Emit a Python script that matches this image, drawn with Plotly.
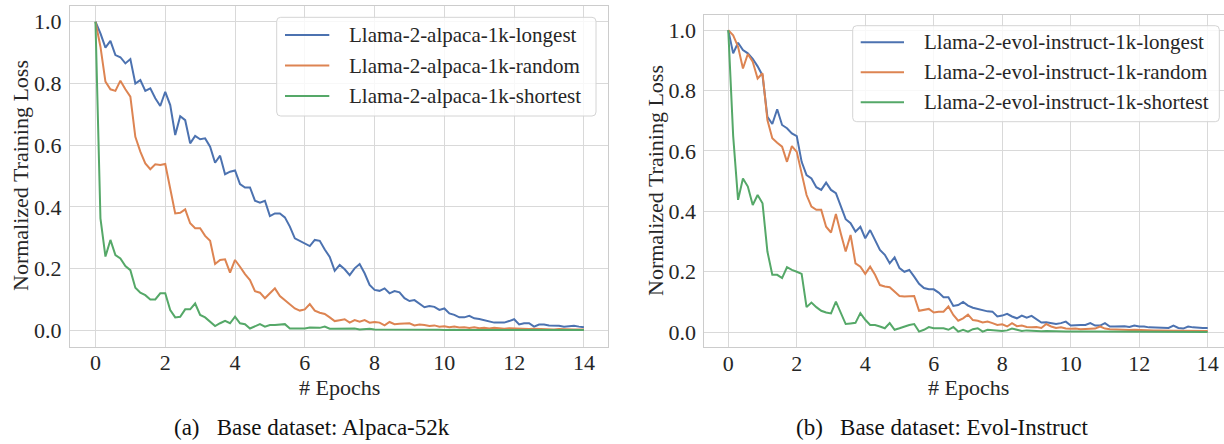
import plotly.graph_objects as go

STEPS_PER_EPOCH = 7
epochs = [k / STEPS_PER_EPOCH for k in range(99)]

alp_longest = [1.000, .962, .916, .938, .892, .885, .865, .879, .800, .811, .776, .784, .752, .727, .773, .730,
               .633, .694, .681, .606, .630, .619, .622, .595, .543, .566, .506, .514, .518, .474, .463, .463,
               .420, .414, .420, .370, .379, .379, .366, .336, .298, .290, .282, .273, .293, .290, .262, .238,
               .193, .212, .198, .179, .201, .215, .185, .147, .131, .128, .136, .120, .127, .123, .104, .095,
               .098, .087, .075, .079, .076, .066, .071, .055, .050, .042, .042, .047, .039, .037, .033, .028,
               .025, .025, .025, .030, .036, .019, .023, .023, .012, .019, .019, .016, .016, .015, .012, .014,
               .015, .012, .010]
alp_random = [1.000, .919, .806, .781, .776, .809, .781, .757, .627, .579, .541, .522, .538, .536, .539, .455,
              .379, .381, .392, .347, .331, .331, .306, .290, .215, .228, .230, .187, .228, .206, .182, .163,
              .127, .122, .104, .120, .136, .111, .098, .082, .071, .064, .068, .085, .064, .057, .053, .042,
              .030, .033, .036, .025, .033, .028, .033, .025, .027, .025, .016, .027, .020, .021, .022, .023,
              .016, .019, .017, .014, .016, .012, .013, .010, .012, .009, .010, .008, .010, .007, .008, .006,
              .008, .006, .005, .007, .006, .005, .005, .004, .005, .004, .004, .004, .003, .004, .003, .003,
              .003, .003, .003]
alp_shortest = [1.000, .363, .239, .293, .244, .233, .208, .195, .138, .122, .114, .100, .100, .120, .120, .066,
                .042, .044, .068, .068, .087, .050, .042, .028, .014, .023, .031, .023, .044, .023, .020, .006,
                .014, .020, .012, .017, .017, .019, .020, .006, .006, .006, .006, .009, .009, .008, .012, .005,
                .005, .005, .006, .004, .006, .003, .004, .005, .003, .003, .004, .003, .002, .003, .002, .003,
                .002, .002, .003, .002, .002, .002, .001, .002, .002, .001, .002, .001, .001, .002, .001, .001,
                .001, .001, .002, .001, .001, .001, .001, .001, .001, .001, .001, .001, .001, .001, .001, .001,
                .001, .001, .001]

evo_longest = [1.000, .923, .958, .934, .923, .905, .880, .850, .713, .689, .738, .686, .675, .658, .649, .564,
               .520, .509, .480, .471, .495, .471, .460, .416, .374, .361, .333, .349, .311, .338, .305, .272,
               .256, .228, .248, .212, .200, .206, .184, .160, .146, .142, .142, .131, .116, .116, .087, .090,
               .100, .088, .081, .077, .072, .069, .068, .052, .055, .061, .052, .046, .055, .048, .054, .043,
               .032, .033, .030, .027, .030, .035, .022, .024, .024, .024, .030, .022, .022, .030, .019, .019,
               .019, .020, .017, .022, .019, .019, .016, .016, .016, .016, .014, .022, .014, .012, .019, .016,
               .014, .014, .014]
evo_random = [1.000, .983, .945, .873, .921, .895, .840, .857, .702, .642, .627, .614, .564, .616, .597, .526,
              .454, .416, .405, .405, .349, .330, .391, .327, .267, .322, .228, .217, .193, .217, .190, .156,
              .151, .149, .134, .120, .118, .118, .120, .071, .073, .077, .065, .068, .068, .085, .057, .038,
              .046, .058, .040, .038, .032, .035, .030, .024, .026, .019, .030, .020, .022, .017, .016, .017,
              .014, .027, .019, .014, .016, .012, .011, .012, .010, .010, .011, .012, .019, .012, .010, .009,
              .008, .008, .007, .008, .007, .006, .006, .006, .006, .005, .006, .005, .005, .005, .005, .005,
              .004, .004, .004]
evo_shortest = [1.000, .650, .438, .509, .482, .421, .454, .427, .267, .190, .190, .179, .215, .206, .200, .193,
                .083, .098, .083, .071, .065, .062, .101, .063, .027, .029, .031, .063, .041, .024, .024, .019,
                .013, .030, .008, .013, .019, .024, .027, .002, .008, .017, .013, .013, .013, .008, .017, .002,
                .008, .002, .010, .013, .002, .008, .006, .005, .004, .006, .012, .008, .004, .006, .005, .003,
                .003, .004, .003, .002, .003, .002, .002, .003, .002, .002, .002, .001, .002, .001, .001, .002,
                .001, .001, .001, .001, .001, .001, .001, .001, .001, .001, .001, .001, .001, .001, .001, .001,
                .001, .001, .001]

alp_names = ["Llama-2-alpaca-1k-longest", "Llama-2-alpaca-1k-random", "Llama-2-alpaca-1k-shortest"]
evo_names = ["Llama-2-evol-instruct-1k-longest", "Llama-2-evol-instruct-1k-random",
             "Llama-2-evol-instruct-1k-shortest"]
x_ticks = [0, 2, 4, 6, 8, 10, 12, 14]
y_ticks = [0.0, 0.2, 0.4, 0.6, 0.8, 1.0]
captions = ["(a)\u00a0\u00a0\u00a0Base dataset: Alpaca-52k", "(b)\u00a0\u00a0\u00a0Base dataset: Evol-Instruct"]
x_title = "# Epochs"
y_title = "Normalized Training Loss"

colors = ["#4C72B0", "#DD8452", "#55A868"]
FONT = "Liberation Serif, Times New Roman, serif"
TXT = "#262626"
W, H = 1224, 444

fig = go.Figure()
for name, ys, c in zip(alp_names, [alp_longest, alp_random, alp_shortest], colors):
    fig.add_trace(go.Scatter(x=epochs, y=ys, mode="lines", name=name, line=dict(color=c, width=2),
                             xaxis="x", yaxis="y", showlegend=False))
for name, ys, c in zip(evo_names, [evo_longest, evo_random, evo_shortest], colors):
    fig.add_trace(go.Scatter(x=epochs, y=ys, mode="lines", name=name, line=dict(color=c, width=2),
                             xaxis="x2", yaxis="y2", showlegend=False))


def px_x(p):
    return p / W


def px_y(p):
    return 1 - p / H


grid = "#d9d9d9"
spine = "#cccccc"
common_x = dict(tickvals=x_ticks, showgrid=True, gridcolor=grid, gridwidth=1, zeroline=False,
                showline=True, linecolor=spine, linewidth=1, ticks="", ticklabelstandoff=-4,
                tickfont=dict(family=FONT, size=22, color=TXT))
common_y = dict(tickvals=y_ticks, tickformat=".1f", showgrid=True, gridcolor=grid, gridwidth=1,
                zeroline=False, showline=True, linecolor=spine, linewidth=1, ticks="",
                ticklabelstandoff=3, tickfont=dict(family=FONT, size=22, color=TXT))

fig.update_layout(
    width=W, height=H, margin=dict(l=0, r=0, t=0, b=0),
    paper_bgcolor="white", plot_bgcolor="white",
    font=dict(family=FONT, size=22, color=TXT),
    xaxis=dict(domain=[px_x(70), px_x(608)], range=[-0.73, 14.69], mirror=True, anchor="y", **common_x),
    yaxis=dict(domain=[px_y(347), px_y(6)], range=[-0.054, 1.051], mirror=True, anchor="x", **common_y),
    xaxis2=dict(domain=[px_x(704.3), 1.0], range=[-0.7, 14.476], mirror=True, anchor="y2", **common_x),
    yaxis2=dict(domain=[px_y(347.3), px_y(15)], range=[-0.05, 1.05], mirror=False, anchor="x2", **common_y),
    showlegend=False,
)


def rounded_box(x0, y0, x1, y1, r=4):
    X = lambda v: px_x(v)
    Y = lambda v: px_y(v)
    path = (f"M {X(x0 + r)},{Y(y0)} L {X(x1 - r)},{Y(y0)} Q {X(x1)},{Y(y0)} {X(x1)},{Y(y0 + r)} "
            f"L {X(x1)},{Y(y1 - r)} Q {X(x1)},{Y(y1)} {X(x1 - r)},{Y(y1)} "
            f"L {X(x0 + r)},{Y(y1)} Q {X(x0)},{Y(y1)} {X(x0)},{Y(y1 - r)} "
            f"L {X(x0)},{Y(y0 + r)} Q {X(x0)},{Y(y0)} {X(x0 + r)},{Y(y0)} Z")
    return dict(type="path", path=path, xref="paper", yref="paper",
                fillcolor="rgba(255,255,255,0.8)", line=dict(color="#d4d4d4", width=1), layer="above")


shapes = []
annotations = []
legend_specs = [
    ((276.7, 17.3, 596, 116), 285, 329.3, 347.3, [35, 65.5, 96], alp_names),
    ((852.7, 25.7, 1219.3, 121.7), 860.7, 904, 921.7, [42.3, 72.3, 102.3], evo_names),
]
for box, lx0, lx1, tx, rows, names in legend_specs:
    shapes.append(rounded_box(*box))
    for ry, name, c in zip(rows, names, colors):
        shapes.append(dict(type="line", xref="paper", yref="paper", x0=px_x(lx0), x1=px_x(lx1),
                           y0=px_y(ry), y1=px_y(ry), line=dict(color=c, width=2), layer="above"))
        annotations.append(dict(text=name, x=px_x(tx), y=px_y(ry), xref="paper", yref="paper",
                                showarrow=False, xanchor="left", yanchor="middle",
                                font=dict(family=FONT, size=21, color=TXT)))

annotations += [
    dict(text=x_title, x=px_x(339), y=px_y(387), xref="paper", yref="paper", showarrow=False,
         xanchor="center", yanchor="middle", font=dict(family=FONT, size=22, color=TXT)),
    dict(text=x_title, x=px_x(968), y=px_y(387), xref="paper", yref="paper", showarrow=False,
         xanchor="center", yanchor="middle", font=dict(family=FONT, size=22, color=TXT)),
    dict(text=y_title, x=px_x(21), y=px_y(176), xref="paper", yref="paper", showarrow=False,
         textangle=-90, xanchor="center", yanchor="middle", font=dict(family=FONT, size=22, color=TXT)),
    dict(text=y_title, x=px_x(656), y=px_y(181), xref="paper", yref="paper", showarrow=False,
         textangle=-90, xanchor="center", yanchor="middle", font=dict(family=FONT, size=22, color=TXT)),
    dict(text=captions[0], x=px_x(312), y=px_y(427), xref="paper", yref="paper", showarrow=False,
         xanchor="center", yanchor="middle", font=dict(family=FONT, size=23, color="#111111")),
    dict(text=captions[1], x=px_x(942), y=px_y(427), xref="paper", yref="paper", showarrow=False,
         xanchor="center", yanchor="middle", font=dict(family=FONT, size=23, color="#111111")),
]
fig.update_layout(annotations=annotations, shapes=shapes)

fig.write_html("out.html")
